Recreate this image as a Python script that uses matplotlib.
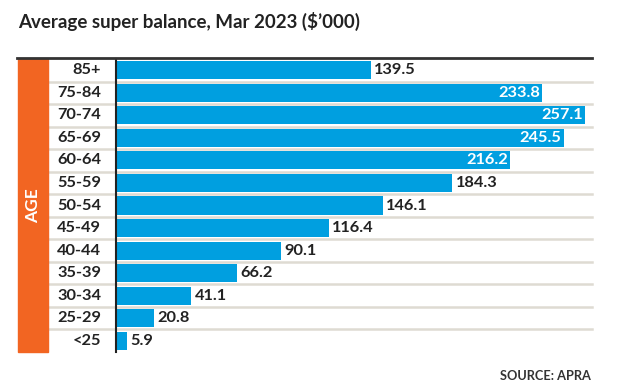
import matplotlib
matplotlib.use("Agg")
import matplotlib.pyplot as plt
from matplotlib.patches import Rectangle

categories = ["85+", "75-84", "70-74", "65-69", "60-64", "55-59", "50-54",
              "45-49", "40-44", "35-39", "30-34", "25-29", "<25"]
values = [139.5, 233.8, 257.1, 245.5, 216.2, 184.3, 146.1,
          116.4, 90.1, 66.2, 41.1, 20.8, 5.9]
inside_threshold = 200

W, H = 618, 390
fig = plt.figure(figsize=(W / 100, H / 100), dpi=100)
fig.patch.set_facecolor("white")

FONT = ["Lato", "DejaVu Sans"]
blue = "#009fe0"
orange = "#f26522"
dark = "#222222"
sep = "#dedbd2"

def fx(px):
    return px / W

def fy(py):
    return 1 - py / H

top, bottom = 59, 352
left_ax, right_ax = 116.5, 592
ax = fig.add_axes([fx(left_ax), fy(bottom), fx(right_ax - left_ax), (bottom - top) / H])
ax.set_xlim(0, (right_ax - left_ax) / 1.822)
ax.set_ylim(len(categories) - 0.5, -0.5)
ax.axis("off")

ypos = list(range(len(categories)))
ax.barh(ypos, values, height=0.8, color=blue, zorder=3)

# row separators across label column and plot
for i in range(1, len(categories)):
    fig.add_artist(plt.Line2D([fx(48), fx(592)],
                              [fy(top + i * (bottom - top) / len(categories))] * 2,
                              color=sep, lw=1.8, zorder=1))

for y, v in zip(ypos, values):
    if v > inside_threshold:
        ax.annotate(f"{v}", (v, y), xytext=(-1.5, 0), textcoords="offset points",
                    ha="right", va="center", color="white", fontsize=11.8,
                    fontweight="bold", family=FONT, zorder=4)
    else:
        ax.annotate(f"{v}", (v, y), xytext=(2.5, 0), textcoords="offset points",
                    ha="left", va="center", color=dark, fontsize=11.8,
                    fontweight="bold", family=FONT, zorder=4)

# category labels
for y, c in zip(ypos, categories):
    py = top + (y + 0.5) * (bottom - top) / len(categories)
    fig.text(fx(101), fy(py), c, ha="right", va="center", fontsize=11.8,
             fontweight="bold", color=dark, family=FONT)

# orange AGE strip
fig.add_artist(Rectangle((fx(18), fy(bottom)), fx(30), (bottom - top) / H,
                         transform=fig.transFigure, color=orange, zorder=2))
fig.text(fx(33), fy((top + bottom) / 2), "AGE", rotation=90, ha="center", va="center",
         fontsize=12.5, fontweight="bold", color="white", family=FONT)

# axis line
fig.add_artist(plt.Line2D([fx(116), fx(116)], [fy(top), fy(bottom)], color="#222222", lw=1.5))
# top rule
fig.add_artist(plt.Line2D([fx(17), fx(592)], [fy(58)] * 2, color="#333333", lw=2))

fig.text(fx(18), fy(21), "Average super balance, Mar 2023 ($\u2019000)", ha="left", va="center",
         fontsize=13.5, fontweight="bold", color=dark, family=FONT)
fig.text(fx(591), fy(376), "SOURCE: APRA", ha="right", va="center", fontsize=9.2,
         fontweight="bold", color="#333333", family=FONT)

fig.savefig("out.png", dpi=100, facecolor="white")
